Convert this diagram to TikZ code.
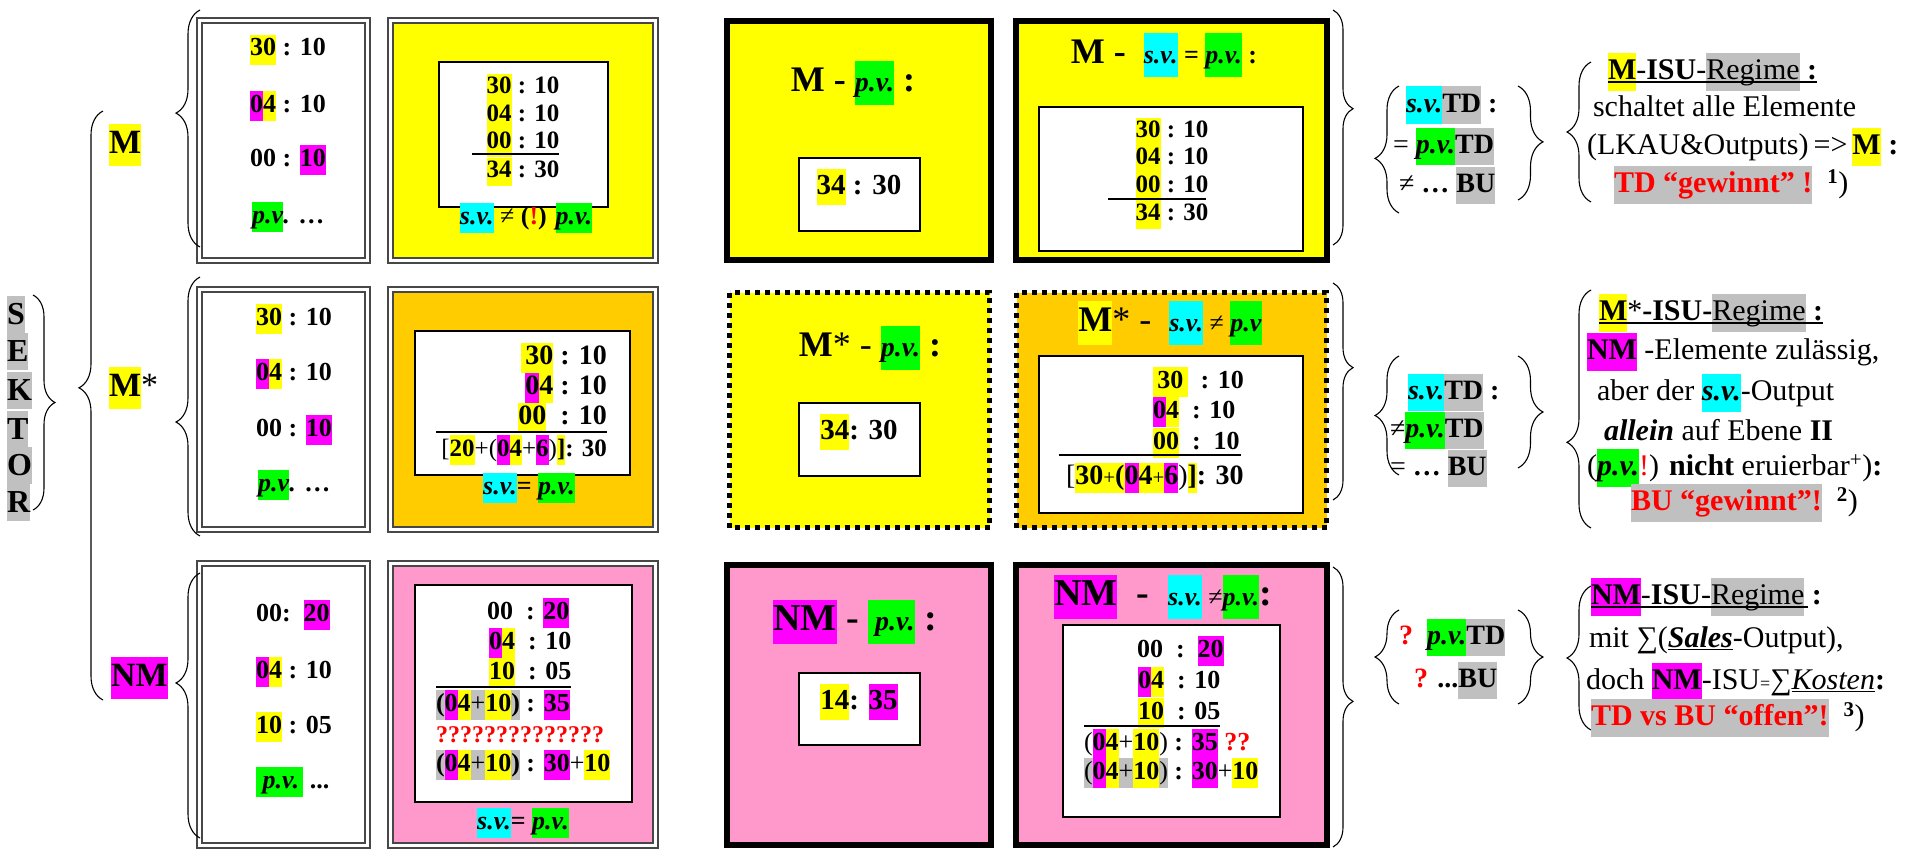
\documentclass[tikz,border=0pt]{standalone}
\usepackage{fontspec}
\setmainfont{Liberation Serif}
\usetikzlibrary{decorations.pathreplacing}
\definecolor{hy}{HTML}{FFFF00}
\definecolor{hm}{HTML}{FF00FF}
\definecolor{hc}{HTML}{00FFFF}
\definecolor{hgn}{HTML}{00FF00}
\definecolor{hgy}{HTML}{C0C0C0}
\definecolor{orng}{HTML}{FFCC00}
\definecolor{pnk}{HTML}{FF99CC}
\definecolor{rd}{HTML}{FF0000}
\setlength{\fboxsep}{0pt}
\newcommand{\hlY}[1]{\colorbox{hy}{\strut#1}}
\newcommand{\hlM}[1]{\colorbox{hm}{\strut#1}}
\newcommand{\hlC}[1]{\colorbox{hc}{\strut#1}}
\newcommand{\hlG}[1]{\colorbox{hgn}{\strut#1}}
\newcommand{\hlS}[1]{\colorbox{hgy}{\strut#1}}
\newcommand{\Rd}[1]{\textcolor{rd}{#1}}
\newcommand{\fsz}[2]{\fontsize{#1}{#2}\selectfont}
\newcommand{\PV}{\textit{p.v.}}
\newcommand{\SV}{\textit{s.v.}}
\tikzset{
  tx/.style={inner sep=0pt, outer sep=0pt},
  dblbox/.style={draw=black!72, line width=1.8pt, double=white, double distance=3pt},
  thkbox/.style={draw=black, line width=6pt},
  dotbox/.style={draw=black, line width=5pt, dash pattern=on 5pt off 5pt},
  wbox/.style={draw=black, line width=1.5pt, fill=white},
  brc/.style 2 args={decorate, decoration={brace, amplitude=#1, aspect=#2}, line width=1.1pt},
  rl/.style={line width=2.5pt},
  ul/.style={line width=1.4pt},
  fA/.style={font=\fsz{26}{30}\bfseries},
  fB/.style={font=\fsz{25}{28}\bfseries},
  fC/.style={font=\fsz{28}{30}\bfseries},
  fT/.style={font=\fsz{36}{44}\bfseries},
  fI/.style={font=\fsz{29}{36}\bfseries},
  fD/.style={font=\fsz{28}{37}\bfseries},
  fR/.style={font=\fsz{30}{38}},
}
\begin{document}
\begin{tikzpicture}[x=1pt,y=-1pt]
\path[use as bounding box] (0,0) rectangle (1915,851);

% ---------- SEKTOR ----------
\foreach \L/\yy/\i in {S/314/1,E/351/2,K/390/3,T/429/4,O/465/5,R/502/6}
  \node[tx, anchor=west, fill=hgy, minimum height=37, font=\fsz{32}{37}\bfseries] (sek\i) at (7,\yy) {\L};
\draw[brc={22}{0.5}] (33,295) -- (33,510);

% ---------- big brace + sector labels ----------
\draw[brc={24}{0.53}] (103,700) -- (103,111);
\node[tx, anchor=west, font=\fsz{34}{42}\bfseries] (labM) at (109,145) {\hlY{M}};
\node[tx, anchor=west, font=\fsz{34}{42}\bfseries] (labMs) at (109,388) {\hlY{M}{\mdseries*}};
\node[tx, anchor=west, font=\fsz{34}{42}\bfseries] (labNM) at (111,678) {\hlM{NM}};

% ---------- column 1 boxes ----------
\draw[dblbox, fill=white] (199.5,20.5) rectangle (367.5,260.5);
\draw[dblbox, fill=white] (199.5,289.5) rectangle (367.5,529.5);
\draw[dblbox, fill=white] (199.5,563.5) rectangle (367.5,845.5);
\draw[brc={24}{0.565}] (200,247) -- (200,10);
\draw[brc={24}{0.44}] (200,536) -- (200,277);
\draw[brc={24}{0.585}] (200,838) -- (200,573);

\node[tx,fA,anchor=west] (a11) at (250,50) {\hlY{30} : 10};
\node[tx,fA,anchor=west] (a12) at (250,106) {\hlM{0}\hlY{4} : 10};
\node[tx,fA,anchor=west] (a13) at (250,160) {00 : \hlM{10}};
\node[tx,fA,anchor=west] (a14) at (252,217) {\hlG{\textit{p.v}}\textit{.} …};

\node[tx,fA,anchor=west] (a21) at (256,319) {\hlY{30} : 10};
\node[tx,fA,anchor=west] (a22) at (256,374) {\hlM{0}\hlY{4} : 10};
\node[tx,fA,anchor=west] (a23) at (256,430) {00 : \hlM{10}};
\node[tx,fA,anchor=west] (a24) at (258,485) {\hlG{\textit{p.v}}\textit{.} …};

\node[tx,fA,anchor=west] (a31) at (256,615) {00:\ \ \hlM{20}};
\node[tx,fA,anchor=west] (a32) at (256,672) {\hlM{0}\hlY{4} : 10};
\node[tx,fA,anchor=west] (a33) at (256,727) {\hlY{10} : 05};
\node[tx,fA,anchor=west] (a34) at (256,782) {\hlG{\ \PV\,} ...};

% ---------- column 2 boxes ----------
\draw[dblbox, fill=hy] (390.5,20.5) rectangle (655.5,260.5);
\draw[dblbox, fill=orng] (390.5,289.5) rectangle (655.5,529.5);
\draw[dblbox, fill=pnk] (390.5,563.5) rectangle (655.5,845.5);
\draw[wbox] (439,62) rectangle (608,207);
\draw[wbox] (415,331) rectangle (630,475);
\draw[wbox] (415,585) rectangle (632,802);

\node[tx,fB] (b11) at (523,88) {\hlY{30} : 10};
\node[tx,fB] (b12) at (523,116) {\hlY{04} : 10};
\node[tx,fB] (b13) at (523,143) {\hlY{00} : 10};
\node[tx,fB] (b14) at (523,172) {\hlY{34} : 30};
\draw[rl] (472,154) -- (559,154);
\node[tx,fA] (b15) at (526,218) {\hlC{\SV} {\mdseries ≠} (\Rd{!}) \hlG{\PV}};

\node[tx,fC,anchor=east] (b21) at (607,358) {\hlY{\,30} : 10};
\node[tx,fC,anchor=east] (b22) at (607,388) {\hlM{0}\hlY{4} : 10};
\node[tx,fC,anchor=east] (b23) at (607,418) {\hlY{00}\ \ : 10};
\draw[rl] (436,432) -- (607,432);
\node[tx,font=\fsz{25}{30}\bfseries,anchor=east] (b24) at (607,450) {{\mdseries[}\hlY{20}{\mdseries+(}\hlM{0}\hlY{4}{\mdseries+}\hlM{6}{\mdseries)}\hlY{]}: 30};
\node[tx,fA] (b25) at (529,488) {\hlC{\SV}= \hlG{\PV}};

\node[tx,fA,anchor=west] (b31) at (487,613) {00\ \ : \hlM{20}};
\node[tx,fA,anchor=west] (b32) at (489,643) {\hlM{0}\hlY{4}\ \ : 10};
\node[tx,fA,anchor=west] (b33) at (489,673) {\hlY{10}\ \ : 05};
\draw[rl] (436,687) -- (571,687);
\node[tx,fA,anchor=west] (b34) at (436,705) {\hlS{(}\hlM{0}\hlY{4}\hlS{\mdseries+}\hlY{10}\hlS{)} : \hlM{35}};
\node[tx,anchor=west,font=\fsz{24}{30}\bfseries] (b35) at (436,735) {\Rd{??????????????}};
\node[tx,fA,anchor=west] (b36) at (436,765) {\hlS{(}\hlM{0}\hlY{4}\hlS{\mdseries+}\hlY{10}\hlS{)} : \hlM{30}{\mdseries+}\hlY{10}};
\node[tx,fA] (b37) at (523,823) {\hlC{\SV}= \hlG{\PV}};

% ---------- column 3 boxes ----------
\draw[thkbox, fill=hy] (727,21) rectangle (991,260);
\draw[dotbox, fill=hy] (729.5,292.5) rectangle (989.5,527.5);
\draw[thkbox, fill=pnk] (727,565) rectangle (991,845);
\draw[wbox] (799,158) rectangle (920,231);
\draw[wbox] (799,403) rectangle (920,476);
\draw[wbox] (799,673) rectangle (920,745);

\node[tx,fT] (c1) at (853,83) {M - \hlG{\fsz{28}{30}\PV} :};
\node[tx,fI] (c1t) at (859,187) {\hlY{34} : 30};
\node[tx,fT] (c2) at (870,348) {M{\mdseries* - }\hlG{\fsz{28}{30}\PV} :};
\node[tx,fI] (c2t) at (859,432) {\hlY{34}: 30};
\node[tx,font=\fsz{38}{44}\bfseries] (c3) at (855,622) {\hlM{NM} - \hlG{\fsz{28}{30}\ \PV} :};
\node[tx,fI] (c3t) at (859,702) {\hlY{14}: \hlM{35}};

% ---------- column 4 boxes ----------
\draw[thkbox, fill=hy] (1016,21) rectangle (1327,260);
\draw[dotbox, fill=orng] (1016.5,292.5) rectangle (1326.5,527.5);
\draw[thkbox, fill=pnk] (1016,565) rectangle (1327,845);
\draw[wbox] (1039,107) rectangle (1303,251);
\draw[wbox] (1039,356) rectangle (1303,513);
\draw[wbox] (1063,625) rectangle (1280,817);

\node[tx,fT] (d1) at (1164,55) {M -\ \ \hlC{\fsz{26}{30}\SV}{\fsz{26}{30} = }\hlG{\fsz{26}{30}\PV}{\fsz{26}{30} :}};
\node[tx,fB] (d11) at (1172,132) {\hlY{30} : 10};
\node[tx,fB] (d12) at (1172,159) {\hlY{04} : 10};
\node[tx,fB] (d13) at (1172,187) {\hlY{00} : 10};
\node[tx,fB] (d14) at (1172,215) {\hlY{34} : 30};
\draw[rl] (1108,199) -- (1206,199);

\node[tx,fT] (d2) at (1170,323) {\hlY{M}{\mdseries* -}\ \ \hlC{\fsz{26}{30}\SV}{\fsz{26}{30}\mdseries\ ≠ }\hlG{\fsz{26}{30}\textit{p.v}}};
\node[tx,fA,anchor=west] (d21) at (1153,382) {\hlY{\,30\,}\ \ : 10};
\node[tx,fA,anchor=west] (d22) at (1153,412) {\hlM{0}\hlY{4}\ \ : 10};
\node[tx,fA,anchor=west] (d23) at (1153,443) {\hlY{00}\ \ :\ \ 10};
\draw[rl] (1059,455) -- (1241,455);
\node[tx,font=\fsz{28}{30}\bfseries,anchor=west] (d24) at (1066,478) {{\mdseries[}\hlY{30{\fsz{21}{24}\mdseries+}(}\hlM{0}\hlY{4{\fsz{21}{24}\mdseries+}}\hlM{6}{\mdseries)}\hlY{]}: 30};

\node[tx,font=\fsz{38}{44}\bfseries] (d3) at (1163,597) {\hlM{NM}\ \ -\ \ \hlC{\fsz{26}{30}\SV}{\fsz{26}{30}\mdseries\ ≠}\hlG{\fsz{26}{30}\PV}:};
\node[tx,fA,anchor=west] (d31) at (1137,651) {00\ \ :\ \ \hlM{20}};
\node[tx,fA,anchor=west] (d32) at (1138,682) {\hlM{0}\hlY{4}\ \ : 10};
\node[tx,fA,anchor=west] (d33) at (1138,713) {\hlY{10}\ \ : 05};
\draw[rl] (1084,726) -- (1220,726);
\node[tx,fA,anchor=west] (d34) at (1084,744) {{\mdseries(}\hlM{0}\hlY{4}{\mdseries+}\hlY{10}{\mdseries)} : \hlM{35} \Rd{??}};
\node[tx,fA,anchor=west] (d35) at (1084,773) {\hlS{\mdseries(}\hlM{0}\hlY{4}\hlS{\mdseries+}\hlY{10}\hlS{\mdseries)} : \hlM{30}{\mdseries+}\hlY{10}};

% ---------- right braces after column 4 ----------
\draw[brc={20}{0.42}] (1333,10) -- (1333,245);
\draw[brc={20}{0.39}] (1333,283) -- (1333,500);
\draw[brc={20}{0.48}] (1333,567) -- (1333,847);

% ---------- TD / BU column ----------
\draw[brc={24}{0.43}] (1399,213) -- (1399,86);
\draw[brc={25}{0.49}] (1518,86) -- (1518,200);
\node[tx,fD,anchor=west] (e11) at (1406,105) {\hlC{\SV}\hlS{TD} :};
\node[tx,fD,anchor=west] (e12) at (1393,146) {{\mdseries=} \hlG{\PV}\hlS{TD}};
\node[tx,fD,anchor=west] (e13) at (1399,185) {{\mdseries≠} … \hlS{BU}};

\draw[brc={24}{0.5}] (1399,475) -- (1399,356);
\draw[brc={25}{0.5}] (1518,356) -- (1518,468);
\node[tx,fD,anchor=west] (e21) at (1408,392) {\hlC{\SV}\hlS{TD} :};
\node[tx,fD,anchor=west] (e22) at (1390,430) {{\mdseries≠}\hlG{\PV}\hlS{TD}};
\node[tx,fD,anchor=west] (e23) at (1390,468) {{\mdseries=} … \hlS{BU}};

\draw[brc={24}{0.5}] (1399,704) -- (1399,610);
\draw[brc={25}{0.5}] (1518,610) -- (1518,704);
\node[tx,fD,anchor=west] (e31) at (1399,637) {\Rd{?}\ \ \hlG{\PV}\hlS{TD}};
\node[tx,fD,anchor=west] (e32) at (1414,680) {\Rd{?} ...\hlS{BU}};

% ---------- right text blocks ----------
\draw[brc={24}{0.5}] (1591,202) -- (1591,62);
\node[tx,fR,anchor=west] (f11) at (1608,72) {\hlY{\textbf{M}}-\textbf{ISU}-\hlS{Regime}\textbf{ :}};
\draw[ul] ([yshift=9]f11.south west) -- ([yshift=9]f11.south east);
\node[tx,fR,anchor=west] (f12) at (1593,106) {schaltet alle Elemente};
\node[tx,fR,anchor=west] (f13) at (1587,147) {(LKAU\&Outputs)\,=>\,\hlY{\textbf{M}} \textbf{:}};
\node[tx,fR,anchor=west] (f14) at (1614,185) {\hlS{\Rd{\textbf{TD “gewinnt” !}}}\ \ \textsuperscript{\textbf{1}})};

\draw[brc={24}{0.36}] (1591,528) -- (1591,290);
\node[tx,fR,anchor=west] (f21) at (1599,313) {\hlY{\textbf{M}}*\textbf{-ISU-}\hlS{Regime}\textbf{ :}};
\draw[ul] ([yshift=9]f21.south west) -- ([yshift=9]f21.south east);
\node[tx,fR,anchor=west] (f22) at (1587,352) {\hlM{\textbf{NM}} -Elemente zulässig,};
\node[tx,fR,anchor=west] (f23) at (1597,393) {aber der \hlC{\textbf{\SV}}-Output};
\node[tx,fR,anchor=west] (f24) at (1604,430) {\textbf{\textit{allein}} auf Ebene \textbf{II}};
\node[tx,fR,anchor=west] (f25) at (1587,468) {(\hlG{\textbf{\PV}}\Rd{!}) \textbf{nicht} eruierbar\textsuperscript{+})\textbf{:}};
\node[tx,fR,anchor=west] (f26) at (1631,503) {\hlS{\Rd{\textbf{BU “gewinnt”!}}}\ \ \textsuperscript{\textbf{2}})};

\draw[brc={24}{0.5}] (1591,730) -- (1591,586);
\node[tx,fR,anchor=west] (f31) at (1591,597) {\hlM{\textbf{NM}}-\textbf{ISU}-\hlS{Regime}\textbf{ :}};
\draw[ul] ([yshift=9]f31.south west) -- ([yshift=9,xshift=-14]f31.south east);
\node[tx,fR,anchor=west] (f32) at (1589,640) {mit ∑(\underline{\textbf{\textit{Sales}}}-Output),};
\node[tx,fR,anchor=west] (f33) at (1586,682) {doch \hlM{\textbf{NM}}-ISU{\fsz{18}{20}=}∑\underline{\textit{Kosten}}\textbf{:}};
\node[tx,fR,anchor=west] (f34) at (1591,718) {\hlS{\Rd{\textbf{TD vs BU “offen”!}}}\ \ \textsuperscript{\textbf{3}})};
\end{tikzpicture}
\end{document}
